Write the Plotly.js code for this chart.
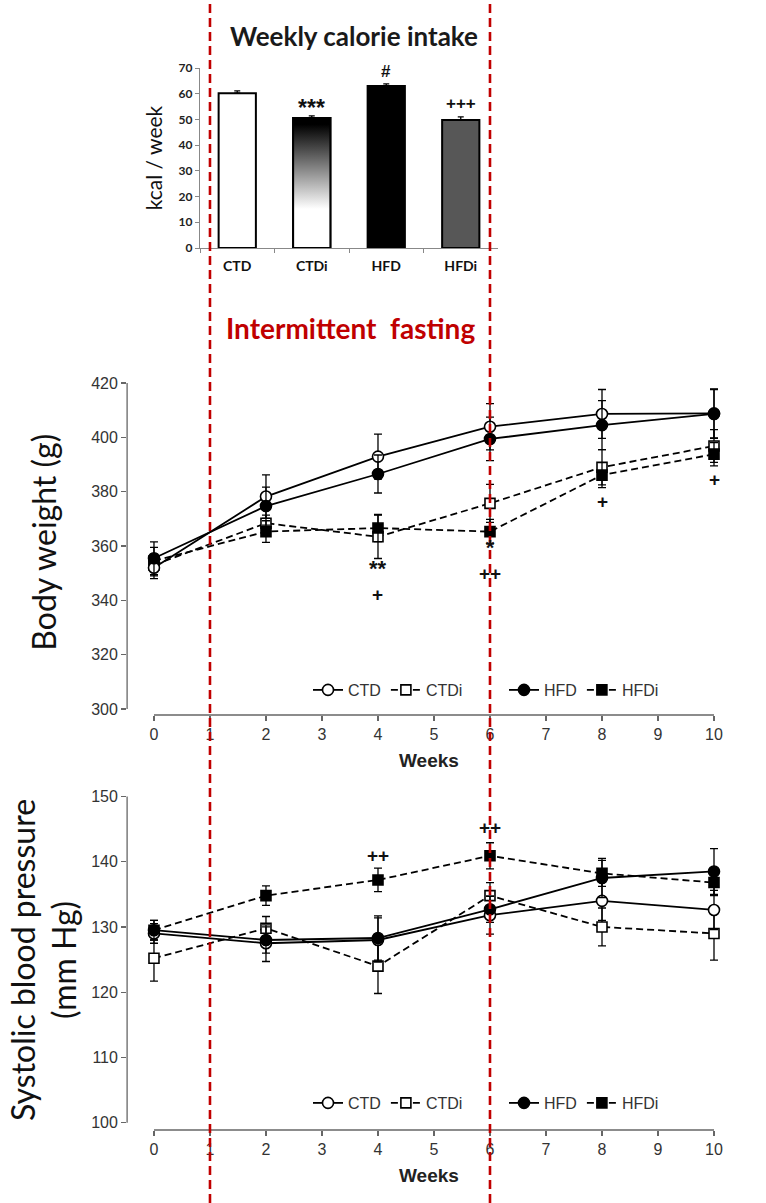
<!DOCTYPE html>
<html><head><meta charset="utf-8">
<script src="https://cdn.plot.ly/plotly-3.0.1.min.js"></script>
<style>html,body{margin:0;padding:0;background:#fff}</style>
</head><body><div id="chart" style="width:766px;height:1203px"></div>
<script>
// ---- Weekly calorie intake (bar chart) ----
const calCats = ['CTD', 'CTDi', 'HFD', 'HFDi'];
const calVals = [60.2, 50.6, 63.0, 49.8];
const calErr = [0.9, 0.8, 0.8, 1.2];
const calSigText = ['', '***', '#', '+++'];
const calSigY = [0, 56.5, 68.8, 56.0];

// ---- Body weight (g) ----
const weeks = [0, 2, 4, 6, 8, 10];
const bwCTD = [352.0, 378.2, 392.9, 403.9, 408.6, 408.8];
const bwCTDErr = [4, 8, 8.3, 8.5, 9, 9];
const bwCTDi = [353.0, 368.4, 363.4, 375.7, 389.0, 396.8];
const bwCTDiErr = [4, 3, 8, 7, 6.5, 6];
const bwHFD = [355.5, 374.7, 386.5, 399.4, 404.5, 408.6];
const bwHFDErr = [6, 7, 7, 8, 9, 9];
const bwHFDi = [354.5, 365.3, 366.6, 365.3, 386.1, 393.8];
const bwHFDiErr = [5, 4, 5, 4.5, 4.6, 4.3];
// significance marks (stars over plus signs, one block per week)
const bwSigWeeks = [4, 6, 8, 10];
const bwSigY = [347.3, 355.0, 376.3, 384.3];
const bwSigStars = ['**', '*', '', ''];
const bwSigPlus = ['+', '++', '+', '+'];

// ---- Systolic blood pressure (mm Hg) ----
const bpCTD = [129.0, 127.5, 128.0, 131.8, 134.0, 132.6];
const bpCTDErr = [1.5, 2.8, 3.4, 2.9, 3.0, 3.0];
const bpCTDi = [125.2, 129.8, 124.0, 134.8, 130.0, 129.0];
const bpCTDiErr = [3.5, 1.8, 4.2, 2.0, 2.9, 4.1];
const bpHFD = [129.5, 128.0, 128.3, 132.7, 137.5, 138.5];
const bpHFDErr = [1.5, 2.0, 3.4, 2.0, 3.0, 3.5];
const bpHFDi = [129.5, 134.8, 137.2, 140.9, 138.2, 136.8];
const bpHFDiErr = [1.5, 1.5, 1.8, 2.0, 2.0, 2.0];
const bpSigWeeks = [4, 6];
const bpSigY = [141.0, 145.3];
const bpSigText = ['++', '++'];

const fastingWeeks = [1, 6];

// ---- styles ----
const RED = '#c00000';
const ARIAL = '"Liberation Sans", Arial, sans-serif';
const CAL = 'Lato, "Open Sans", sans-serif';
const AX = '#666';

function series(name, x, y, err, xa, ya, legend, rank, filled, square, dashed) {
  return {
    type: 'scatter', mode: 'lines+markers', name: name, x: x, y: y,
    xaxis: xa, yaxis: ya, legend: legend, legendrank: rank,
    line: {color: '#000', width: 1.8, dash: dashed ? '7px,4px' : 'solid'},
    marker: {symbol: square ? 'square' : 'circle', size: square ? 10 : 11,
             color: filled ? '#000' : '#fff', line: {color: '#000', width: 1.6}},
    error_y: {type: 'data', array: err, visible: true, color: '#000', thickness: 1.3, width: 4}
  };
}

const idx = calCats.map((c, i) => i);
const barW = 0.5;
const traces = [];

// bars
traces.push({
  type: 'bar', x: idx, y: calVals, width: barW, xaxis: 'x', yaxis: 'y', showlegend: false,
  marker: {color: ['#ffffff', 'rgba(0,0,0,0)', '#000000', '#575757'], line: {color: '#000', width: 2}},
  error_y: {type: 'data', array: calErr, arrayminus: calErr.map(() => 0), visible: true, color: '#000', thickness: 1.3, width: 3}
});
// gradient fill of the CTDi bar
const gi = calCats.indexOf('CTDi');
traces.push({
  type: 'scatter', mode: 'lines', xaxis: 'x', yaxis: 'y', showlegend: false, hoverinfo: 'skip',
  x: [gi - barW / 2, gi + barW / 2, gi + barW / 2, gi - barW / 2, gi - barW / 2],
  y: [0, 0, calVals[gi], calVals[gi], 0],
  fill: 'toself',
  fillgradient: {type: 'vertical', colorscale: [[0, '#ffffff'], [0.3, '#ffffff'], [0.95, '#000000'], [1, '#000000']]},
  line: {color: '#000', width: 2}
});
// invisible trace for category label axis
traces.push({type: 'scatter', mode: 'markers', x: idx, y: calVals, xaxis: 'x4', yaxis: 'y',
  marker: {opacity: 0}, showlegend: false, hoverinfo: 'skip'});

// body weight
traces.push(series('CTDi', weeks, bwCTDi, bwCTDiErr, 'x2', 'y2', 'legend', 2, false, true, true));
traces.push(series('HFDi', weeks, bwHFDi, bwHFDiErr, 'x2', 'y2', 'legend2', 2, true, true, true));
traces.push(series('CTD', weeks, bwCTD, bwCTDErr, 'x2', 'y2', 'legend', 1, false, false, false));
traces.push(series('HFD', weeks, bwHFD, bwHFDErr, 'x2', 'y2', 'legend2', 1, true, false, false));
// blood pressure
traces.push(series('CTDi', weeks, bpCTDi, bpCTDiErr, 'x3', 'y3', 'legend3', 2, false, true, true));
traces.push(series('HFDi', weeks, bpHFDi, bpHFDiErr, 'x3', 'y3', 'legend4', 2, true, true, true));
traces.push(series('CTD', weeks, bpCTD, bpCTDErr, 'x3', 'y3', 'legend3', 1, false, false, false));
traces.push(series('HFD', weeks, bpHFD, bpHFDErr, 'x3', 'y3', 'legend4', 1, true, false, false));

const sigFont = (size) => ({family: ARIAL, size: size, color: '#111', weight: 'bold'});

const annotations = [];
calSigText.forEach((t, i) => { if (t) annotations.push({xref: 'x', yref: 'y', x: i, y: calSigY[i], text: t, showarrow: false,
  font: sigFont(t.indexOf('*') >= 0 ? 23 : 17), yshift: t.indexOf('*') >= 0 ? -5 : 0}); });
bwSigWeeks.forEach((w, i) => annotations.push({xref: 'x2', yref: 'y2', x: w, y: bwSigY[i], showarrow: false,
  text: (bwSigStars[i] ? '<span style="font-size:22px">' + bwSigStars[i] + '</span><br>' : '') + bwSigPlus[i],
  font: sigFont(19)}));
bpSigText.forEach((t, i) => annotations.push({xref: 'x3', yref: 'y3', x: bpSigWeeks[i], y: bpSigY[i], text: t, showarrow: false,
  font: sigFont(19)}));
annotations.push({xref: 'paper', yref: 'paper', x: 354 / 766, y: 1 - 36 / 1203, xanchor: 'center', yanchor: 'middle',
  text: 'Weekly calorie intake', showarrow: false,
  font: {family: CAL, size: 26, color: '#1a1a1a', weight: 'bold'}});
annotations.push({xref: 'paper', yref: 'paper', x: 350 / 766, y: 1 - 328 / 1203, xanchor: 'center', yanchor: 'middle',
  text: 'Intermittent&nbsp;&nbsp;fasting', showarrow: false,
  font: {family: CAL, size: 28, color: RED, weight: 'bold'}});

const shapes = [];
fastingWeeks.forEach(w => shapes.push({type: 'line', xref: 'x2', yref: 'paper', x0: w, x1: w, y0: 0, y1: 1,
  line: {color: RED, width: 2.6, dash: '9px,5px'}, layer: 'above'}));
[['x2', 'y2', 300, 420], ['x3', 'y3', 100, 150]].forEach(([xa, ya, lo, hi]) => {
  shapes.push({type: 'line', xref: xa, yref: ya + ' domain', x0: 0, x1: 10, y0: 0, y1: 0, line: {color: AX, width: 1.3}, layer: 'below'});
  shapes.push({type: 'line', xref: xa + ' domain', yref: ya, x0: 0, x1: 0, y0: lo, y1: hi, line: {color: AX, width: 1.3}, layer: 'below'});
});

const lineX = (dom, anchor) => ({
  domain: dom, anchor: anchor, range: [-0.48, 10.3], tick0: 0, dtick: 1, showgrid: false, zeroline: false, showline: false,
  ticks: 'outside', ticklen: 5, tickwidth: 1.3, tickcolor: AX, tickfont: {family: ARIAL, size: 16, color: '#333'},
  title: {text: 'Weeks', font: {family: ARIAL, size: 19, color: '#222', weight: 'bold'}, standoff: 11}
});
const lineY = (dom, anchor, range, tick0, dtick, title, tsize, standoff) => ({
  domain: dom, anchor: anchor, range: range, tick0: tick0, dtick: dtick, showgrid: false, zeroline: false, showline: false,
  ticks: 'outside', ticklen: 5, tickwidth: 1.3, tickcolor: AX, tickfont: {family: ARIAL, size: 16, color: '#333'},
  title: {text: title, font: {family: CAL, size: tsize, color: '#111'}, standoff: standoff}
});
const legendStyle = (x, y) => ({orientation: 'h', x: x, y: y, xanchor: 'left', yanchor: 'middle', bgcolor: 'rgba(0,0,0,0)',
  font: {family: ARIAL, size: 16, color: '#333'}, traceorder: 'normal'});

const layout = {
  width: 766, height: 1203, margin: {l: 0, r: 0, t: 0, b: 0}, paper_bgcolor: '#fff', plot_bgcolor: 'rgba(0,0,0,0)',
  showlegend: true, bargap: 0,
  xaxis: {domain: [200 / 766, 498 / 766], anchor: 'y', range: [-0.5, 3.5], tickvals: [-0.5, 0.5, 1.5, 2.5], ticktext: ['', '', '', ''],
    ticks: 'outside', ticklen: 4, tickcolor: '#888', showline: true, linecolor: '#888', linewidth: 1.2, showgrid: false, zeroline: false},
  xaxis4: {overlaying: 'x', anchor: 'y', side: 'bottom', range: [-0.5, 3.5], tickvals: idx, ticktext: calCats, ticks: '',
    ticklabelstandoff: 8,
    showline: false, showgrid: false, zeroline: false, tickfont: {family: CAL, size: 14, color: '#111', weight: 'bold'}},
  yaxis: {domain: [1 - 248 / 1203, 1 - 68 / 1203], anchor: 'x', range: [0, 70], dtick: 10, showgrid: false, zeroline: false,
    showline: true, linecolor: '#888', linewidth: 1.2, ticks: 'outside', ticklen: 4, tickcolor: '#888',
    tickfont: {family: CAL, size: 12, color: '#222', weight: 'bold'},
    title: {text: 'kcal / week', font: {family: CAL, size: 21, color: '#111'}, standoff: 10}},
  xaxis2: lineX([127.1 / 766, 730.8 / 766], 'y2'),
  yaxis2: lineY([1 - 715 / 1203, 1 - 369.4 / 1203], 'x2', [297.8, 425], 300, 20, 'Body weight (g)', 32, 24),
  xaxis3: lineX([127.1 / 766, 730.8 / 766], 'y3'),
  yaxis3: lineY([1 - 1130 / 1203, 1 - 789.9 / 1203], 'x3', [98.88, 151], 100, 10, 'Systolic blood pressure<br>(mm Hg)', 32, 4),
  legend: legendStyle(308 / 766, 1 - 690 / 1203),
  legend2: legendStyle(504 / 766, 1 - 690 / 1203),
  legend3: legendStyle(308 / 766, 1 - 1103 / 1203),
  legend4: legendStyle(504 / 766, 1 - 1103 / 1203),
  annotations: annotations,
  shapes: shapes
};

Plotly.newPlot('chart', traces, layout, {displayModeBar: false, staticPlot: true});
</script></body></html>
